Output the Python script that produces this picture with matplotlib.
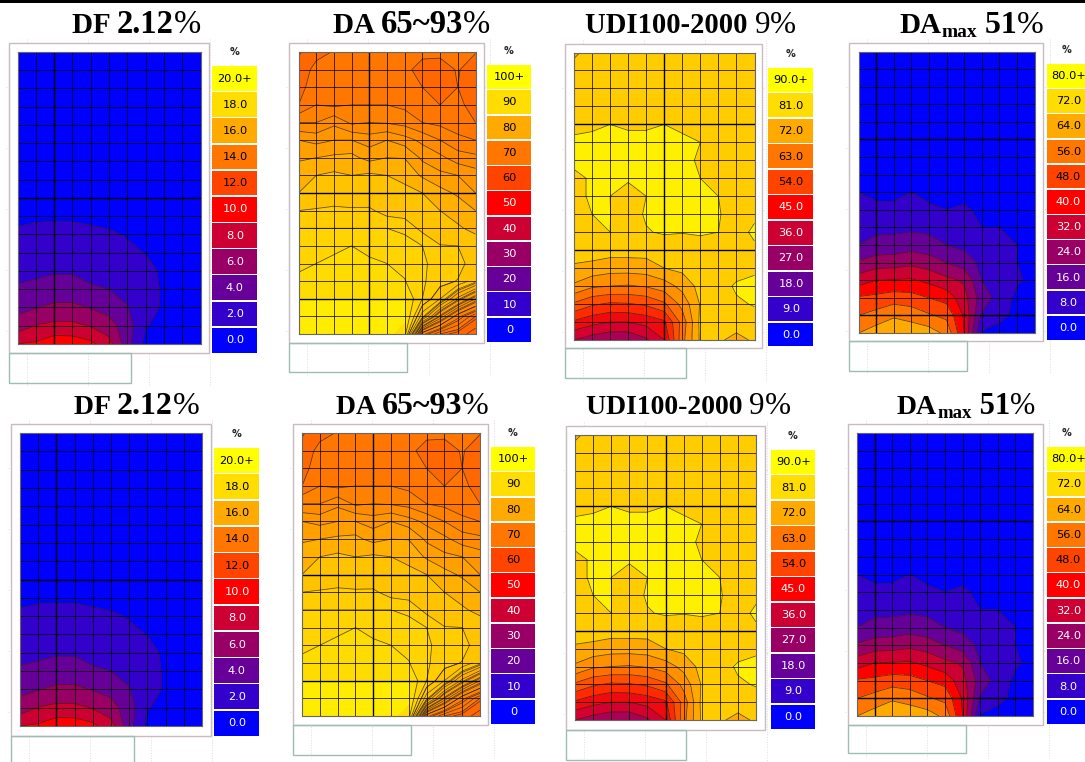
import matplotlib
matplotlib.use('Agg')
import matplotlib.pyplot as plt
from matplotlib.patches import Rectangle
import numpy as np

W, H = 1085, 762

# node values, row 0 = top of the plan, 17 rows x 11 columns
df_values = [
    [.1, .1, .1, .1, .1, .1, .1, .1, .1, .1, .1],
    [.1, .1, .1, .1, .1, .1, .1, .1, .1, .1, .1],
    [.1, .1, .1, .1, .1, .1, .1, .1, .1, .1, .1],
    [.1, .1, .1, .1, .1, .1, .1, .1, .1, .1, .1],
    [.1, .1, .1, .1, .1, .1, .1, .1, .1, .1, .1],
    [.2, .2, .2, .2, .2, .2, .1, .1, .1, .1, .1],
    [.2, .2, .3, .3, .2, .2, .2, .1, .1, .1, .1],
    [.3, .3, .3, .3, .3, .3, .2, .2, .1, .1, .1],
    [.4, .5, .5, .5, .4, .4, .3, .2, .2, .1, .1],
    [.6, .8, .8, .8, .7, .5, .4, .3, .2, .2, .1],
    [1.3, 1.4, 1.5, 1.5, 1.3, 1.2, .9, .5, .3, .2, .2],
    [1.7, 1.9, 2.0, 2.0, 1.8, 1.6, 1.3, .95, .5, .3, .2],
    [2.3, 2.6, 2.8, 2.8, 2.5, 2.2, 1.8, 1.5, .7, .4, .2],
    [3.3, 3.5, 3.9, 3.9, 3.2, 3.0, 2.4, 1.6, .8, .4, .2],
    [4.4, 4.9, 5.4, 5.4, 4.9, 4.3, 3.1, 1.6, .8, .4, .2],
    [5.9, 7.1, 7.5, 7.5, 6.9, 5.8, 3.9, 1.1, .5, .3, .2],
    [9.0, 9.3, 10.3, 10.2, 9.5, 7.8, 3.8, .4, .2, .2, .1],
]
da_values = [
    [65, 68, 69.2, 70, 70.5, 70.5, 70, 70, 69.8, 70, 69.2],
    [67, 70, 70, 69.5, 70.5, 70.5, 70, 67.5, 67.5, 69.3, 67],
    [68, 70.5, 70.5, 70, 70.6, 70.6, 70.2, 69, 68, 69, 67],
    [69, 71, 70.6, 71, 71, 71, 70.5, 70, 69, 69.6, 68],
    [73, 73, 74.5, 72.6, 73, 72.8, 72.3, 71, 70.5, 70, 69],
    [77, 76.3, 77, 77, 76, 77, 75.8, 74.5, 73, 71.5, 71],
    [79, 79.5, 80, 80.3, 78.5, 79.5, 79.4, 76.5, 75.5, 74, 73.5],
    [81.5, 83, 83.8, 83, 83.6, 83, 81.8, 79, 77.5, 77, 76],
    [83, 85, 85.3, 85, 85.2, 84.3, 84.2, 83, 80.5, 79, 77],
    [86.5, 86.7, 86.9, 86.8, 86.8, 85.8, 85.6, 84.2, 83, 81.5, 79.5],
    [88, 88, 88, 88, 88, 88, 87.6, 86, 85, 83.5, 82],
    [89, 89.2, 89.6, 90, 89.5, 88.9, 88.7, 88, 86.6, 86.5, 85],
    [89.5, 90, 90.4, 91, 90.3, 90, 89.4, 88.4, 87, 87.2, 85.5],
    [90.5, 91, 91.2, 91.5, 91, 90.6, 90.1, 88.2, 87.2, 86.4, 84],
    [92, 92, 92, 92, 92, 92, 92, 88, 85, 80, 76],
    [92.5, 92.6, 92.6, 92.5, 92.4, 92.4, 92.4, 84, 77, 72, 69],
    [93, 93, 93, 93, 92.8, 92.5, 91, 72, 69, 68, 66],
]
udi_values = [
    [77, 80, 80, 80, 80, 80, 80, 80, 80, 80, 80],
    [80, 80, 80, 80, 80, 80, 80, 80, 80, 80, 80],
    [81, 81, 81, 81, 81, 81, 80, 80, 80, 80, 80],
    [82, 82, 82.5, 82, 82, 82.5, 81, 81, 80, 80, 80],
    [82.6, 83, 84, 83, 83, 84, 83, 82, 81, 80, 80],
    [85, 85.5, 86, 86, 86, 86, 85, 84, 82, 81, 81],
    [85, 86, 86, 86, 86, 86, 85, 83.5, 81.5, 81, 81],
    [83, 84.5, 85, 84.6, 85, 86, 85.5, 84, 82.5, 81, 81],
    [82, 85, 84, 82, 84, 86, 86, 85.5, 84, 81, 81],
    [81.5, 84, 84.05, 82, 84.5, 85.5, 86, 85.5, 84.5, 81, 83],
    [81.5, 82, 84, 82, 83.7, 84.5, 84.2, 84.5, 84, 82, 85],
    [81, 81, 80.5, 80.5, 80.5, 81, 81, 82, 81, 81, 83],
    [77, 76, 74.5, 74.5, 75, 78, 79.5, 80, 80, 81, 83],
    [71, 67, 66, 65.5, 66.5, 69, 74, 80, 81, 85, 85.5],
    [59, 55, 53, 53.5, 55, 59, 68, 78.5, 80, 83, 84.5],
    [47, 44, 42, 42, 44, 47, 62.4, 79.5, 80, 81, 81],
    [36, 33, 31, 31, 35, 42, 64, 79, 79, 76, 79],
]
damax_values = [
    [.3, .3, .3, .3, .3, .3, .3, .3, .3, .3, .3],
    [.3, .3, .3, .3, .3, .3, .3, .3, .3, .3, .3],
    [.3, .3, .3, .3, .3, .3, .3, .3, .3, .3, .3],
    [.4, .4, .4, .4, .4, .4, .4, .3, .3, .3, .3],
    [.5, .5, .5, .5, .5, .5, .4, .4, .3, .3, .3],
    [.7, .7, .7, .7, .7, .6, .5, .4, .4, .3, .3],
    [1, 1, 1, 1.2, 1, .8, .7, .5, .4, .4, .3],
    [2, 1.5, 1.5, 2.5, 1.5, 1, 1, .7, .5, .4, .3],
    [4, 2.5, 2.5, 4, 2.5, 1.5, 2, 1, .7, .5, .3],
    [6, 5.5, 5.5, 7, 5, 4, 5, 2.5, 2, 1, .5],
    [9, 10, 10, 10.5, 10, 8, 7, 4, 4, 2.5, 1],
    [12, 14.5, 15, 16.5, 15, 12, 10, 7, 6, 4, 1],
    [21, 24, 24.5, 26, 24, 20, 16, 10, 8, 4, 1],
    [32, 36, 36.5, 37, 34, 30, 27, 12, 9, 5, 2],
    [45, 46, 48, 47, 44, 41, 31, 16, 9, 2, 1],
    [52, 55, 59, 57, 53, 50, 35, 11, 6, 2, 1],
    [60, 64, 66, 65, 64, 58, 36, 3, 1, 1, .5],
]

df_labels = ['20.0+', '18.0', '16.0', '14.0', '12.0', '10.0', '8.0', '6.0', '4.0', '2.0', '0.0']
da_labels = ['100+', '90', '80', '70', '60', '50', '40', '30', '20', '10', '0']
udi_labels = ['90.0+', '81.0', '72.0', '63.0', '54.0', '45.0', '36.0', '27.0', '18.0', '9.0', '0.0']
damax_labels = ['80.0+', '72.0', '64.0', '56.0', '48.0', '40.0', '32.0', '24.0', '16.0', '8.0', '0.0']

# legend swatches top to bottom
scale_colors = ['#ffff00', '#ffdd00', '#ffaa00', '#ff7700', '#ff4400', '#ff0000',
                '#cc0033', '#990066', '#660099', '#3300cc', '#0000ff']

df_levels = [-1, 1, 3, 5, 7, 9, 11]
df_bands = ['#0000ff', '#3300cc', '#660099', '#990066', '#cc0033', '#ff0000']
da_levels = [60, 65.5, 69, 71, 73, 75, 77, 79.5, 83, 86.5, 88, 90, 91.99, 100]
da_bands = ['#ff5500', '#ff6800', '#ff7700', '#ff8100', '#ff8b00', '#ff9600', '#ff9f00',
            '#ffb000', '#ffc300', '#ffcd00', '#ffd400', '#ffdc00', '#ffec00']
da_fan_levels = [67, 68.5, 70, 71.5, 73, 74.5, 76, 77.5, 79, 80.5, 82, 83.5, 85, 86.5]
udi_levels = [28, 36, 42, 48, 54, 60, 66, 72, 78, 84, 90]
udi_bands = ['#aa0055', '#d40030', '#f00a10', '#ff2a00', '#ff5000', '#ff7000', '#ff9000',
             '#ffa800', '#ffcc00', '#fff000']
damax_levels = [-1, 4, 12, 20, 28, 36, 44, 52, 60, 70]
damax_bands = ['#0000ff', '#3300cc', '#660099', '#990066', '#cc0033', '#ff0000', '#ff4400',
               '#ff7700', '#ffaa00']

kinds = {
    'df': (df_values, df_levels, df_bands, df_labels),
    'da': (da_values, da_levels, da_bands, da_labels),
    'udi': (udi_values, udi_levels, udi_bands, udi_labels),
    'damax': (damax_values, damax_levels, damax_bands, damax_labels),
}

# pixel layout: plot box, outer frame, lower box, legend, heavy grid lines (col, row)
panels = [
    ('df', (17.5, 52, 200.5, 344), (9, 43, 209, 353), (9, 353, 131, 383), (212, 66, 257, 354), [2], [8]),
    ('da', (298.5, 52, 475.5, 334), (289, 43, 484, 343), (289, 343, 407, 372), (487, 65, 531, 343), [4], [8, 14]),
    ('udi', (574, 52.5, 754.5, 340), (565, 44, 762, 348), (565, 348, 686, 378), (768, 68, 813, 348), [5], [4, 11]),
    ('damax', (858.5, 51.5, 1034.5, 333), (849, 43, 1043, 341), (849, 341, 967, 371), (1047, 64, 1092, 341), [1], [5, 15]),
    ('df', (20, 433, 202, 726), (11, 424, 211, 736), (11, 736, 134, 766), (214, 448, 259, 737), [2], [8]),
    ('da', (302, 433, 480, 716), (293, 424, 488, 725), (293, 725, 411, 755), (491, 447, 535, 725), [4], [8, 14]),
    ('udi', (575, 435, 756, 720), (566, 426, 765, 730), (566, 730, 686, 760), (771, 450, 815, 730), [5], [4, 11]),
    ('damax', (857, 433, 1033, 716), (848, 424, 1043, 725), (848, 725, 966, 753), (1047, 447, 1092, 725), [1], [5, 15]),
]

titles = [
    (72, 33, [('DF ', 21, 'bold'), ('2.12', 23.5, 'bold'), ('%', 23.5, 'normal')]),
    (333, 33, [('DA ', 21, 'bold'), ('65~93', 23.5, 'bold'), ('%', 23.5, 'normal')]),
    (585, 33, [('UDI100-2000 ', 20.6, 'bold'), ('9', 22.5, 'normal'), ('%', 22.5, 'normal')]),
    (899, 33, [('DA', 21, 'bold'), ('max', 14, 'bold'), (' 51', 23, 'bold'), ('%', 23, 'normal')]),
    (74, 414, [('DF ', 20, 'bold'), ('2.12', 23, 'bold'), ('%', 23, 'normal')]),
    (336, 414, [('DA ', 20, 'bold'), ('65~93', 23, 'bold'), ('%', 23, 'normal')]),
    (586, 414, [('UDI100-2000 ', 20, 'bold'), ('9', 22.5, 'normal'), ('%', 22.5, 'normal')]),
    (897, 414, [('DA', 20, 'bold'), ('max', 13.5, 'bold'), (' 51', 22, 'bold'), ('%', 22, 'normal')]),
]

fig = plt.figure(figsize=(W / 100, H / 100), dpi=100, facecolor='white')
bg = fig.add_axes([0, 0, 1, 1], zorder=0)
bg.set_xlim(0, W)
bg.set_ylim(H, 0)
bg.axis('off')

bg.add_patch(Rectangle((0, 0), W, 3, color='black', lw=0))

for kind, box, frame, lower, leg, heavy_v, heavy_h in panels:
    values, levels, bands, labels = kinds[kind]
    z = np.array(values)

    # faint dotted construction lines behind the frame
    fx0, fy0, fx1, fy1 = frame
    for i in range(4):
        gx = fx0 + 18 + i * 61
        bg.plot([gx, gx], [fy0 - 4, fy1 + 33], color='#dddddd', lw=.7, ls=':', zorder=1)
    for i in range(5):
        gy = fy0 + 44 + i * 61
        bg.plot([fx0 - 3, fx1 + 3], [gy, gy], color='#dddddd', lw=.7, ls=':', zorder=1)

    bg.add_patch(Rectangle((fx0, fy0), fx1 - fx0, fy1 - fy0, fc='white', ec='#c8bcc0', lw=1, zorder=2))
    bg.add_patch(Rectangle((lower[0], lower[1]), lower[2] - lower[0], lower[3] - lower[1],
                           fc='none', ec='#9dbdb4', lw=1, zorder=2))

    # legend, the text of the last column has to stay inside the picture
    n = len(labels)
    step = (leg[3] - leg[1]) / n
    for i, lab in enumerate(labels):
        bg.add_patch(Rectangle((leg[0], leg[1] + i * step), leg[2] - leg[0], step - 1.5,
                               fc=scale_colors[i], ec='none', zorder=2))
        tx = (leg[0] + leg[2]) / 2 + .5
        if leg[2] > W:
            tx = W - 16.5
        bg.text(tx, leg[1] + (i + .5) * step - .5, lab, ha='center', va='center',
                fontsize=8.2, family='DejaVu Sans', color='black' if i < 5 else 'white', zorder=3)
    bg.text((leg[0] + leg[2]) / 2 if leg[2] <= W else W - 19, leg[1] - 14, '%', ha='center', va='center',
            fontsize=7, family='DejaVu Sans', weight='bold', color='#222222', zorder=3)

    # contour plot
    x0, y0, x1, y1 = box
    ax = fig.add_axes([x0 / W, 1 - y1 / H, (x1 - x0) / W, (y1 - y0) / H], zorder=2)
    rows, cols = z.shape
    xs, ys = np.arange(cols), np.arange(rows)
    ax.contourf(xs, ys, z, levels=levels, colors=bands)
    line_levels = [v for v in levels[1:-1] if v != 91.99]
    ax.contour(xs, ys, z, levels=line_levels, colors='#2a2020', linewidths=.55, alpha=.8)
    if kind == 'da':
        ax.contour(xs[6:], ys[13:], z[13:, 6:], levels=da_fan_levels, colors='#2a2020',
                   linewidths=.5, alpha=.75)
    for c in range(cols):
        ax.axvline(c, color='black', lw=1 if c in heavy_v else .6, alpha=1 if c in heavy_v else .85)
    for r in range(rows):
        ax.axhline(r, color='black', lw=1 if r in heavy_h else .6, alpha=1 if r in heavy_h else .85)
    ax.set_xlim(0, cols - 1)
    ax.set_ylim(rows - 1, 0)
    ax.set_xticks([])
    ax.set_yticks([])
    for s in ax.spines.values():
        s.set_color('#666666')
        s.set_linewidth(.8)

# titles are mixed runs, so place one after the other
renderer = fig.canvas.get_renderer()
for tx, ty, runs in titles:
    cur = tx
    for txt, size, weight in runs:
        yy = ty + 4 if txt == 'max' else ty
        t = bg.text(cur, yy, txt, fontsize=size, weight=weight, family='Liberation Serif',
                    color='black', va='baseline', ha='left', zorder=5)
        cur += t.get_window_extent(renderer).width

fig.savefig('out.png', dpi=100)
